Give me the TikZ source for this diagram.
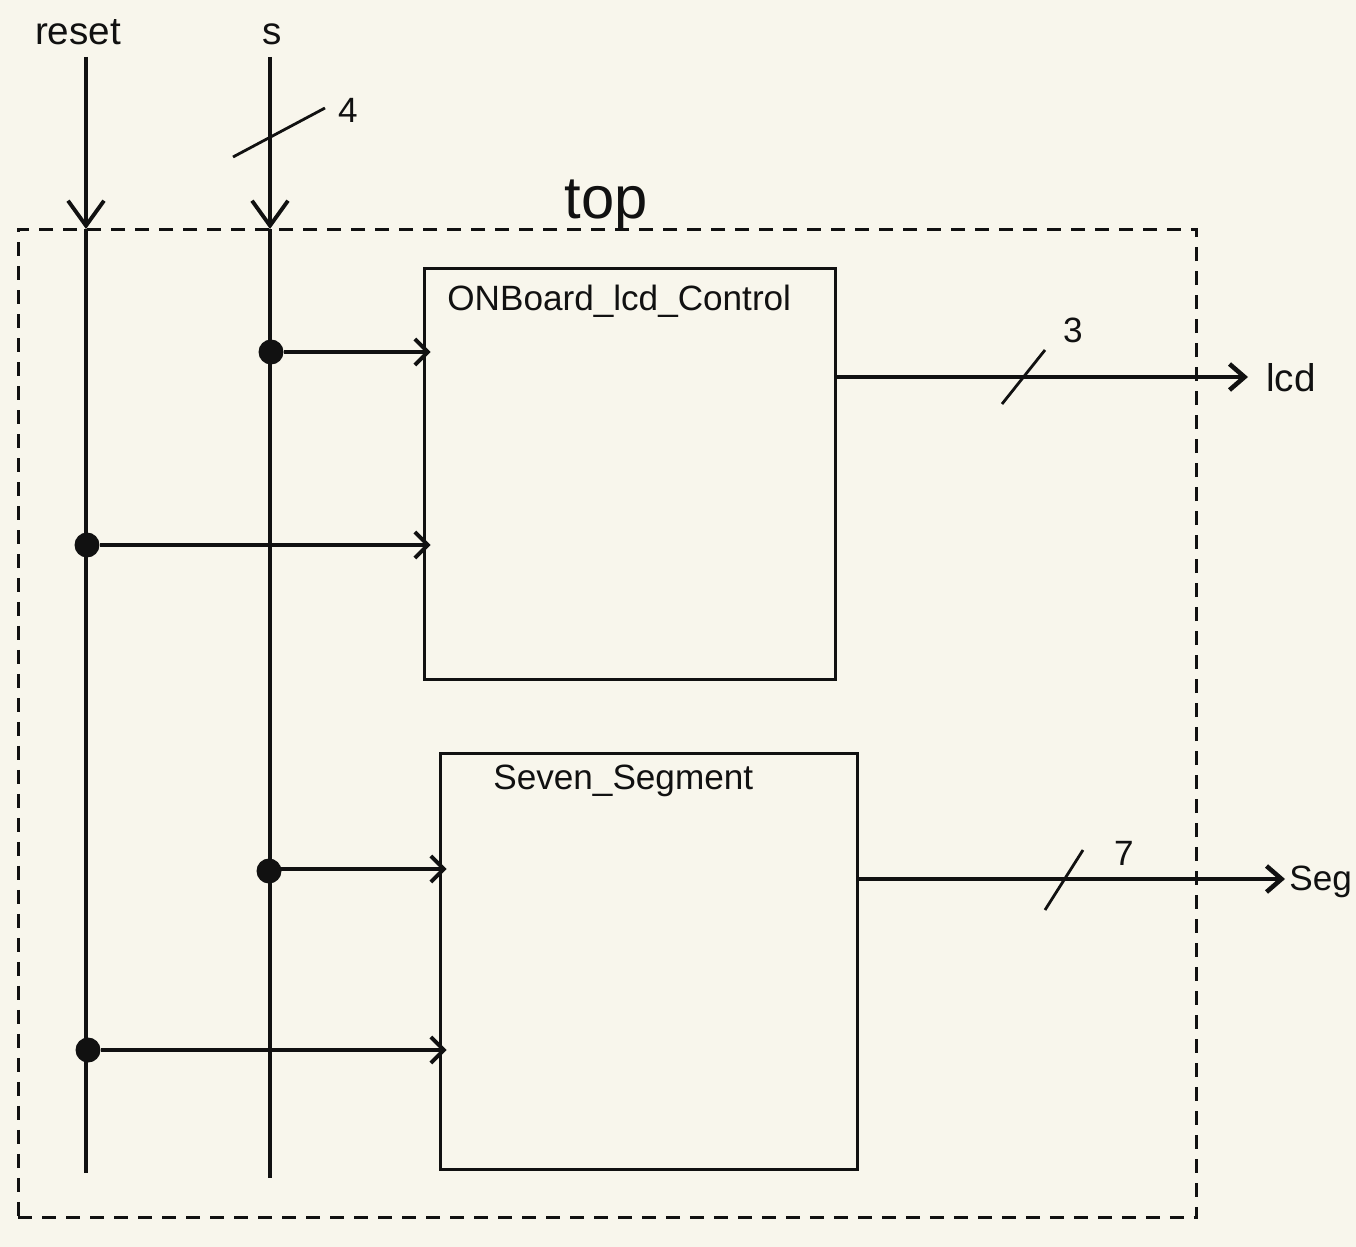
\documentclass[tikz,border=0pt]{standalone}
\usepackage{fontspec}
\setmainfont{Liberation Sans}
\usetikzlibrary{arrows.meta,calc}
\definecolor{paper}{HTML}{F8F6EC}
\definecolor{ink}{HTML}{111111}
\tikzset{
  wire/.style={draw=ink,line width=2pt},
  inarrow/.style={wire,-{Straight Barb[length=0.5cm,width=0.72cm,line width=2.2pt]}},
  sigarrow/.style={wire,-{Straight Barb[length=0.26cm,width=0.52cm,line width=2.2pt]},shorten >=-0.16cm},
  outarrow/.style={wire,-{Straight Barb[length=0.3cm,width=0.52cm,line width=2.6pt]}},
  blk/.style={draw=ink,line width=1.7pt,fill=none,inner sep=0pt},
  frame/.style={draw=ink,line width=1.8pt,dash pattern=on 0.28cm off 0.2cm,inner sep=0pt},
  dotn/.style={circle,fill=ink,inner sep=0pt,minimum size=0.5cm},
  lbl/.style={text=ink,inner sep=0pt,font=\fontsize{22}{26}\selectfont},
  blbl/.style={text=ink,inner sep=0pt,anchor=west,font=\fontsize{20}{24}\selectfont},
  num/.style={text=ink,inner sep=0pt,font=\fontsize{20}{24}\selectfont},
  slash/.style={draw=ink,line width=1.6pt}
}
\begin{document}
\begin{tikzpicture}[x=0.02cm,y=-0.02cm]
\fill[paper] (0,0) rectangle (1356,1247);
\useasboundingbox (0,0) rectangle (1356,1247);

% enclosing frame
\node[frame,minimum width=23.58cm,minimum height=19.78cm] (top) at (607.5,723.5) {};
\node[lbl,font=\fontsize{34}{38}\selectfont] (toplbl) at (606,205) {top};

% blocks
\node[blk,minimum width=8.24cm,minimum height=8.24cm] (b1) at (630,474) {};
\node[blbl] (b1lbl) at (447,301) {ONBoard\_lcd\_Control};
\node[blk,minimum width=8.36cm,minimum height=8.34cm] (b2) at (649,961.5) {};
\node[blbl] (b2lbl) at (493,781) {Seven\_Segment};

% input wires
\coordinate (rtop) at (86,57);
\coordinate (rin) at (86,229);
\coordinate (rbot) at (86,1173);
\coordinate (stop) at (270,57);
\coordinate (sin) at (270,229);
\coordinate (sbot) at (270,1178);
\node[lbl,anchor=south] (resetlbl) at (78,45) {reset};
\node[lbl,anchor=south] (slbl) at (272,45) {s};
\draw[inarrow] (rtop) -- (rin);
\draw[wire] (rin) -- (rbot);
\draw[inarrow] (stop) -- (sin);
\draw[wire] (sin) -- (sbot);

% bus width of s
\draw[slash] (233,157) -- (325,108);
\node[num] (n4) at (348,110) {4};

% junction dots
\node[dotn] (d1) at (271,352) {};
\node[dotn] (d2) at (87,545) {};
\node[dotn] (d3) at (269,871) {};
\node[dotn] (d4) at (88,1050) {};

\draw[sigarrow] (d1) -- (d1 -| b1.west);
\draw[sigarrow] (d2) -- (d2 -| b1.west);
\draw[sigarrow] ($(d3)+(0,-2)$) -- ($(d3 -| b2.west)+(0,-2)$);
\draw[sigarrow] (d4) -- (d4 -| b2.west);

% outputs
\coordinate (lcdend) at (1248,377);
\node[lbl,anchor=west] (lcdlbl) at (1266,378) {lcd};
\draw[outarrow] (b1.east |- lcdend) -- (lcdend);
\draw[slash] (1002,404) -- (1045,350);
\node[num] (n3) at (1073,330) {3};

\coordinate (segend) at (1285,879);
\node[lbl,anchor=west,font=\fontsize{20}{24}\selectfont] (seglbl) at (1289,882) {Seg};
\draw[outarrow] (b2.east |- segend) -- (segend);
\draw[slash] (1045,910) -- (1083,850);
\node[num] (n7) at (1124,853) {7};
\end{tikzpicture}
\end{document}
